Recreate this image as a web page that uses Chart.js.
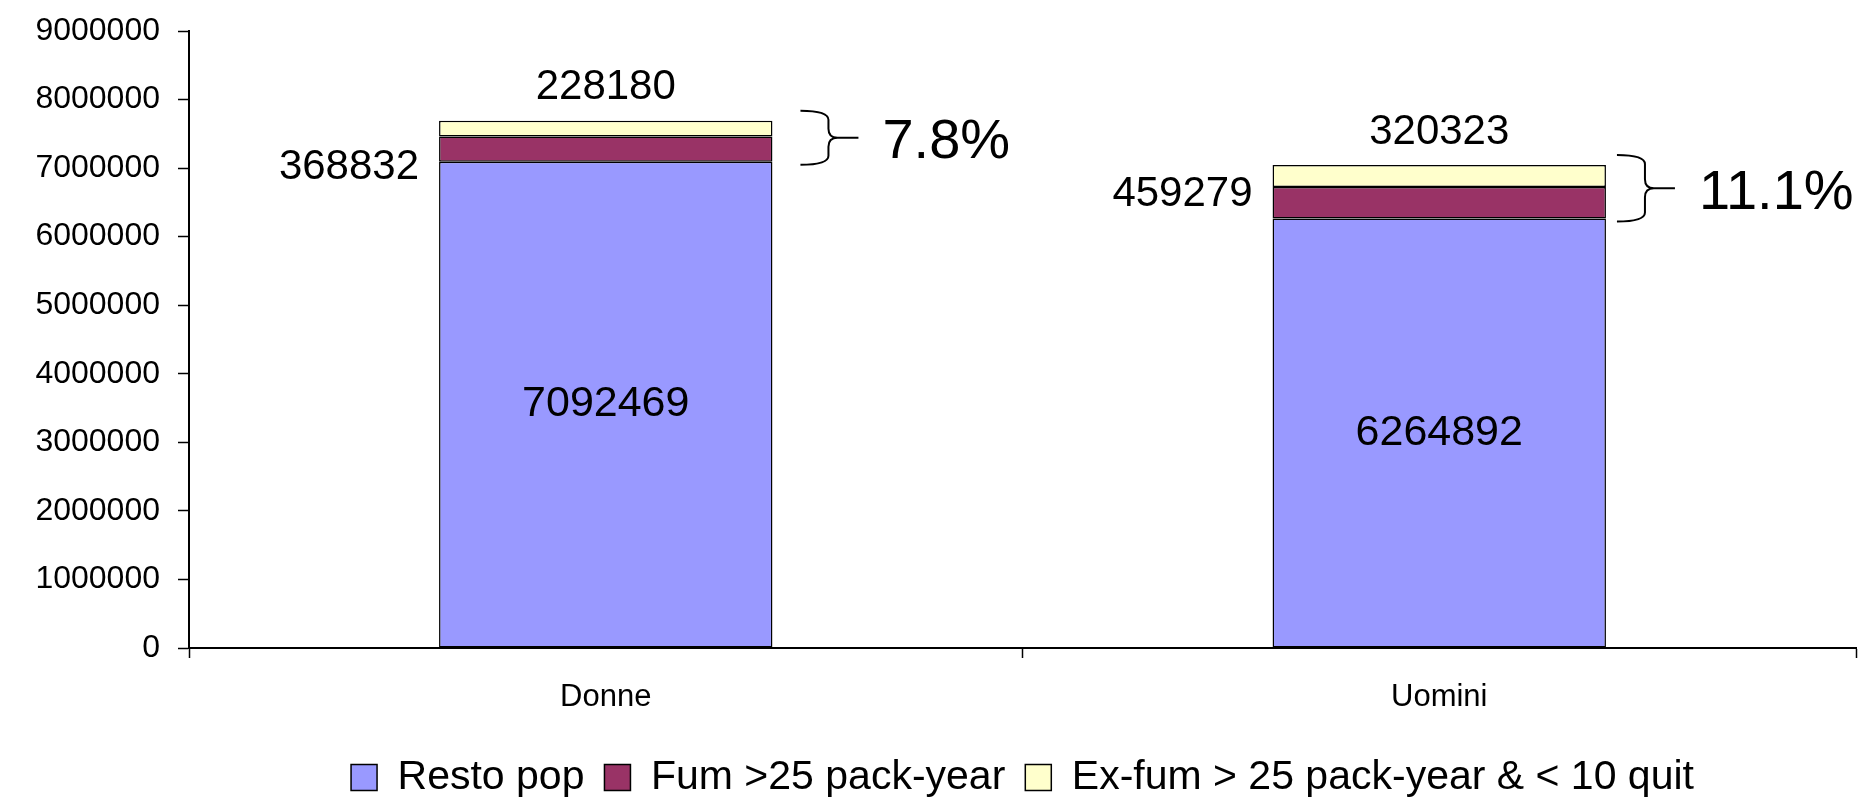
<!DOCTYPE html>
<html>
<head>
<meta charset="utf-8">
<title>Resto pop / Fumatori</title>
<script src="https://cdn.jsdelivr.net/npm/chart.js@4.4.1/dist/chart.umd.min.js"></script>
<style>
    html, body { margin: 0; padding: 0; background: #fff; }
    canvas { display: block; }
</style>
</head>
<body>
<canvas id="chart" width="1869" height="801"></canvas>
<script>
'use strict';

// --- data ---
const categories = ['Donne', 'Uomini'];
const seriesNames = ['Resto pop', 'Fum >25 pack-year', 'Ex-fum > 25 pack-year & < 10 quit'];
const restoPop = [7092469, 6264892];
const fumatori = [368832, 459279];
const exFumatori = [228180, 320323];
const yMax = 9000000;
const yStep = 1000000;

// --- look ---
const FONT = 'Arial, "Liberation Sans", sans-serif';
const colors = ['#9999FF', '#993366', '#FFFFCC'];
// small per-bar nudges for the annotations (px)
const sideLabelNudge = [18, -8];
const braceGap = [28, 11];

/**
 * Draws the value labels, the braces and the share of smokers.
 */
const barLabels = {
    id: 'barLabels',
    afterDatasetsDraw(chart) {
        const ctx = chart.ctx;
        const lower = chart.getDatasetMeta(0).data;
        const middle = chart.getDatasetMeta(1).data;
        const upper = chart.getDatasetMeta(2).data;

        ctx.save();
        ctx.fillStyle = '#000';
        ctx.strokeStyle = '#000';
        ctx.textBaseline = 'middle';

        categories.forEach((cat, i) => {
            const b = lower[i], m = middle[i], t = upper[i];
            const left = b.x - b.width / 2;
            const right = b.x + b.width / 2;

            ctx.font = '43px ' + FONT;
            ctx.textAlign = 'center';
            ctx.fillText(String(restoPop[i]), b.x, (b.y + b.base) / 2);

            ctx.font = '42px ' + FONT;
            ctx.textAlign = 'right';
            ctx.fillText(String(fumatori[i]), left - 20, (m.y + m.base) / 2 + sideLabelNudge[i]);

            ctx.textAlign = 'center';
            ctx.fillText(String(exFumatori[i]), t.x, t.y - 33);

            // curly brace round the two smoker blocks
            const x0 = right + braceGap[i];
            const xm = x0 + 28;
            const tip = x0 + 58;
            const y0 = t.y - 10;
            const y1 = m.base + 3;
            const ym = (y0 + y1) / 2;
            const r = 9;
            ctx.lineWidth = 2;
            ctx.beginPath();
            ctx.moveTo(x0, y0);
            ctx.quadraticCurveTo(xm, y0, xm, y0 + r);
            ctx.lineTo(xm, ym - r);
            ctx.quadraticCurveTo(xm, ym, xm + r, ym);
            ctx.lineTo(tip, ym);
            ctx.moveTo(xm + r, ym);
            ctx.quadraticCurveTo(xm, ym, xm, ym + r);
            ctx.lineTo(xm, y1 - r);
            ctx.quadraticCurveTo(xm, y1, x0, y1);
            ctx.stroke();

            const total = restoPop[i] + fumatori[i] + exFumatori[i];
            const share = ((fumatori[i] + exFumatori[i]) / total * 100).toFixed(1) + '%';
            ctx.font = '56px ' + FONT;
            ctx.textAlign = 'left';
            ctx.fillText(share, tip + 24, ym + 5);
        });
        ctx.restore();
    }
};

const ctx = document.getElementById('chart').getContext('2d');
new Chart(ctx, {
    type: 'bar',
    data: {
        labels: categories,
        datasets: [restoPop, fumatori, exFumatori].map((values, k) => ({
            label: seriesNames[k],
            data: values,
            backgroundColor: colors[k],
            borderColor: '#000',
            borderWidth: 1.5,
            borderSkipped: false,
            barPercentage: 0.4,
            categoryPercentage: 1
        }))
    },
    options: {
        responsive: false,
        animation: false,
        layout: { padding: { top: 31, right: 13, bottom: -7, left: 0 } },
        plugins: {
            tooltip: { enabled: false },
            legend: {
                position: 'bottom',
                fullSize: false,
                labels: {
                    color: '#000',
                    font: { family: FONT, size: 41 },
                    boxWidth: 26,
                    boxHeight: 26,
                    padding: 20
                }
            }
        },
        scales: {
            x: {
                stacked: true,
                afterFit(scale) { scale.height = 89; },
                grid: {
                    drawOnChartArea: false,
                    drawTicks: true,
                    tickLength: 10,
                    tickWidth: 1.5,
                    tickColor: '#000'
                },
                border: { display: true, color: '#000', width: 2 },
                ticks: {
                    color: '#000',
                    padding: 21,
                    font: { family: FONT, size: 31 }
                }
            },
            y: {
                stacked: true,
                min: 0,
                max: yMax,
                afterFit(scale) {
                    scale.width = 189;
                    scale.paddingTop = 0;
                },
                grid: {
                    drawOnChartArea: false,
                    drawTicks: true,
                    tickLength: 11,
                    tickWidth: 1.5,
                    tickColor: '#000'
                },
                border: { display: true, color: '#000', width: 2 },
                ticks: {
                    stepSize: yStep,
                    color: '#000',
                    padding: 18,
                    font: { family: FONT, size: 32 },
                    callback: (value) => String(value)
                }
            }
        }
    },
    plugins: [barLabels]
});
</script>
</body>
</html>
